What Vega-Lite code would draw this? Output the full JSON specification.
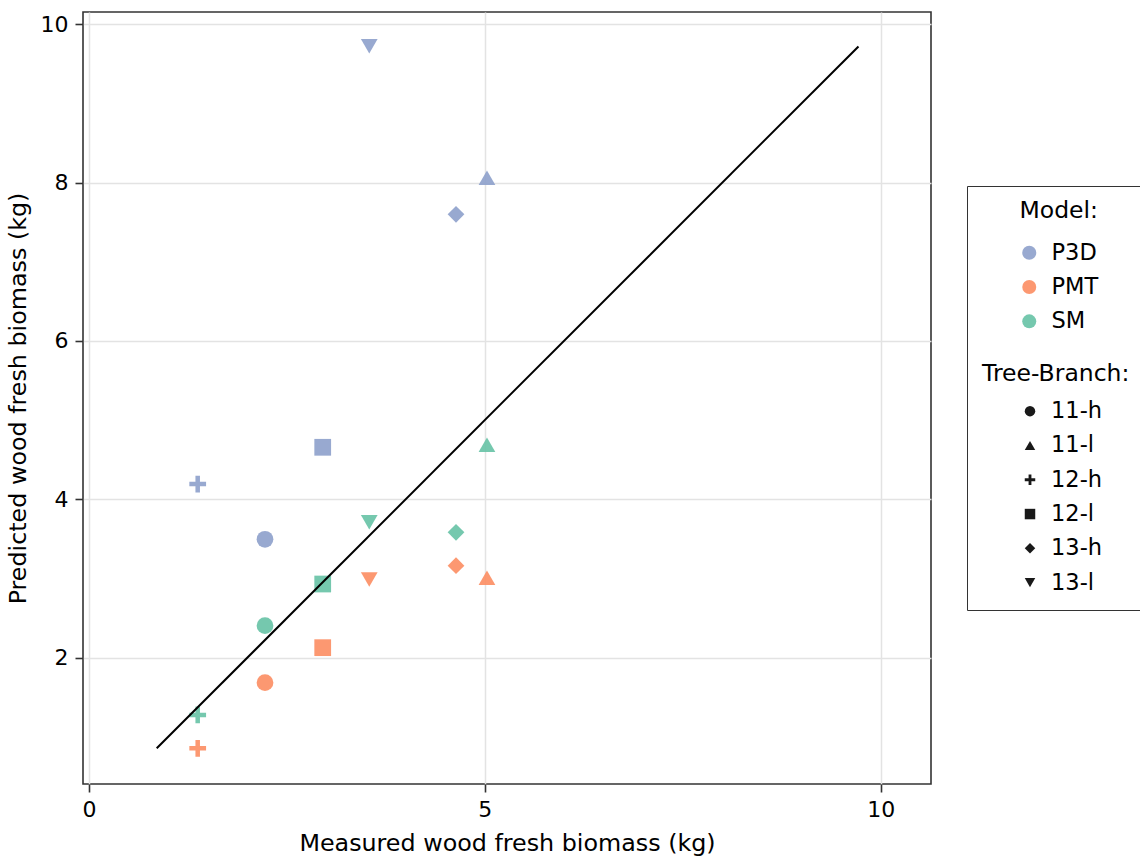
{
  "$schema": "https://vega.github.io/schema/vega-lite/v6.json",
  "width": 848,
  "height": 772,
  "autosize": {"type": "none"},
  "padding": {"left": 83, "top": 12, "right": 209, "bottom": 72},
  "background": "white",
  "config": {
    "font": "DejaVu Sans",
    "view": {"stroke": "#333333", "strokeWidth": 1.6},
    "axis": {
      "domain": false,
      "grid": true,
      "gridColor": "#e3e3e3",
      "gridWidth": 1.5,
      "tickColor": "#333333",
      "tickSize": 8,
      "tickWidth": 1.6,
      "labelFont": "DejaVu Sans",
      "labelFontSize": 22,
      "labelColor": "black",
      "labelPadding": 7,
      "titleFont": "DejaVu Sans",
      "titleFontSize": 23.8,
      "titleFontWeight": "normal",
      "titleColor": "black"
    },
    "legend": {
      "offset": 36,
      "layout": {"right": {"anchor": "middle", "direction": "vertical"}},
      "labelFont": "DejaVu Sans",
      "labelFontSize": 22.5,
      "labelColor": "black",
      "titleFont": "DejaVu Sans",
      "titleFontSize": 23.5,
      "titleFontWeight": "normal",
      "titleColor": "black",
      "titleLimit": 400,
      "rowPadding": 11.3
    }
  },
  "layer": [
    {
      "data": {
        "values": [
          {"model": "P3D", "branch": "11-h", "measured": 2.223, "predicted": 3.495},
          {"model": "P3D", "branch": "11-l", "measured": 5.027, "predicted": 8.061},
          {"model": "P3D", "branch": "12-h", "measured": 1.373, "predicted": 4.193},
          {"model": "P3D", "branch": "12-l", "measured": 2.952, "predicted": 4.657},
          {"model": "P3D", "branch": "13-h", "measured": 4.636, "predicted": 7.6},
          {"model": "P3D", "branch": "13-l", "measured": 3.54, "predicted": 9.722},
          {"model": "PMT", "branch": "11-h", "measured": 2.223, "predicted": 1.684},
          {"model": "PMT", "branch": "11-l", "measured": 5.027, "predicted": 3.009},
          {"model": "PMT", "branch": "12-h", "measured": 1.373, "predicted": 0.855},
          {"model": "PMT", "branch": "12-l", "measured": 2.952, "predicted": 2.126},
          {"model": "PMT", "branch": "13-h", "measured": 4.636, "predicted": 3.162},
          {"model": "PMT", "branch": "13-l", "measured": 3.54, "predicted": 2.987},
          {"model": "SM", "branch": "11-h", "measured": 2.223, "predicted": 2.404},
          {"model": "SM", "branch": "11-l", "measured": 5.027, "predicted": 4.69},
          {"model": "SM", "branch": "12-h", "measured": 1.373, "predicted": 1.276},
          {"model": "SM", "branch": "12-l", "measured": 2.952, "predicted": 2.93},
          {"model": "SM", "branch": "13-h", "measured": 4.636, "predicted": 3.583},
          {"model": "SM", "branch": "13-l", "measured": 3.54, "predicted": 3.71}
        ]
      },
      "mark": {"type": "point", "filled": true, "size": 280, "opacity": 0.9, "strokeWidth": 0},
      "encoding": {
        "x": {
          "field": "measured", "type": "quantitative",
          "scale": {"domain": [-0.076, 10.636], "nice": false, "zero": false},
          "axis": {"values": [0, 5, 10], "format": "d", "title": "Measured wood fresh biomass (kg)", "titlePadding": 11}
        },
        "y": {
          "field": "predicted", "type": "quantitative",
          "scale": {"domain": [0.404, 10.155], "nice": false, "zero": false},
          "axis": {"values": [2, 4, 6, 8, 10], "format": "d", "title": "Predicted wood fresh biomass (kg)", "titlePadding": 10}
        },
        "color": {
          "field": "model", "type": "nominal",
          "scale": {"domain": ["P3D", "PMT", "SM"], "range": ["#8da0cb", "#fc8d62", "#66c2a5"]},
          "legend": {
            "title": "Model:",
            "orient": "none",
            "legendX": 884,
            "legendY": 172,
            "padding": 15,
            "symbolOffset": 36,
            "labelOffset": 11,
            "symbolSize": 196,
            "symbolType": "circle",
            "titleAnchor": "end",
            "titlePadding": 19
          }
        },
        "shape": {
          "field": "branch", "type": "nominal",
          "scale": {
            "domain": ["11-h", "11-l", "12-h", "12-l", "13-h", "13-l"],
            "range": ["circle", "triangle-up", "M-1,-0.27H-0.27V-1H0.27V-0.27H1V0.27H0.27V1H-0.27V0.27H-1Z", "square", "diamond", "triangle-down"]
          },
          "legend": {
            "title": ["\u2800", "\u2800", "\u2800", "\u2800", "Tree-Branch:"],
            "orient": "right",
            "padding": 15,
            "strokeColor": "#333333",
            "symbolOffset": 36.75,
            "labelOffset": 9.75,
            "symbolSize": 110,
            "symbolFillColor": "black",
            "symbolStrokeColor": "black",
            "symbolStrokeWidth": 0,
            "titleLineHeight": 40.35,
            "titlePadding": 14,
            "titleAnchor": "start"
          }
        }
      }
    },
    {
      "data": {"values": [{"measured": 0.855, "predicted": 0.855}, {"measured": 9.72, "predicted": 9.72}]},
      "mark": {"type": "line", "color": "black", "strokeWidth": 2},
      "encoding": {
        "x": {"field": "measured", "type": "quantitative"},
        "y": {"field": "predicted", "type": "quantitative"}
      }
    }
  ]
}
